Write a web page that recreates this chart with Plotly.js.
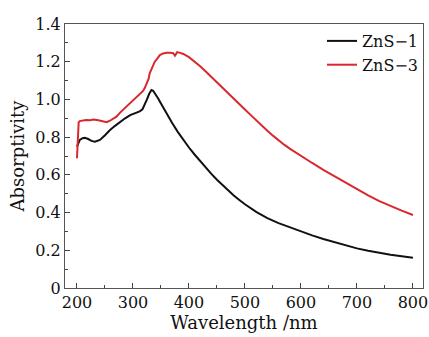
<!DOCTYPE html>
<html>
<head>
<meta charset="utf-8">
<script src="https://cdn.plot.ly/plotly-3.0.1.min.js"></script>
<style>html,body{margin:0;padding:0;background:#fff;}#chart{width:429px;height:337px;}</style>
</head>
<body>
<div id="chart"></div>
<script>
var wl1 = [200,202,205,210,214,220,226,232,241,250,259,268,277,286,295,304,312,317,321,325,329,333,336,340,345,350,360,370,380,390,400,410,420,430,440,450,460,470,480,490,500,520,540,560,580,600,620,640,660,680,700,720,740,760,780,800];
var abs1 = [0.75,0.767,0.785,0.794,0.796,0.79,0.78,0.776,0.785,0.81,0.838,0.86,0.882,0.9,0.917,0.928,0.937,0.948,0.97,1.0,1.03,1.05,1.046,1.03,1.005,0.978,0.925,0.875,0.828,0.785,0.745,0.708,0.672,0.638,0.605,0.574,0.545,0.517,0.491,0.467,0.444,0.404,0.371,0.344,0.321,0.3,0.279,0.26,0.242,0.225,0.21,0.197,0.186,0.176,0.168,0.161];
var wl3 = [200,201,202,203,205,210,216,223,230,238,247,253,259,265,271,277,286,295,304,312,318,321,325,328,330,333,336,339,343,348,354,360,366,372,375,379,384,390,400,410,420,430,440,450,460,470,480,490,500,510,520,530,540,550,560,570,580,590,600,620,640,660,680,700,720,740,760,780,800];
var abs3 = [0.688,0.75,0.84,0.878,0.885,0.888,0.891,0.89,0.893,0.89,0.882,0.879,0.887,0.897,0.91,0.93,0.955,0.98,1.003,1.025,1.045,1.06,1.085,1.11,1.14,1.16,1.18,1.2,1.215,1.235,1.244,1.248,1.247,1.245,1.232,1.251,1.247,1.241,1.224,1.202,1.176,1.148,1.12,1.092,1.064,1.036,1.007,0.977,0.947,0.918,0.889,0.861,0.834,0.808,0.783,0.76,0.739,0.719,0.7,0.663,0.627,0.592,0.557,0.523,0.491,0.461,0.434,0.41,0.387];
var names = ["ZnS\u22121","ZnS\u22123"];
var yTickVals = [0,0.2,0.4,0.6,0.8,1.0,1.2,1.4];
var yTickText = ["0","0.2","0.4","0.6","0.8","1.0","1.2","1.4"];
var xTickVals = [200,300,400,500,600,700,800];

var fontFam = "DejaVu Serif, serif";
var traces = [
  {x: wl1, y: abs1, mode: "lines", name: names[0], line: {color: "#111111", width: 2}},
  {x: wl3, y: abs3, mode: "lines", name: names[1], line: {color: "#d8282e", width: 2}}
];
var layout = {
  width: 429, height: 337,
  margin: {l: 65, r: 6, t: 24, b: 49},
  paper_bgcolor: "#fff", plot_bgcolor: "#fff",
  showlegend: true,
  legend: {x: 1, xanchor: "right", y: 1, yanchor: "top", bgcolor: "rgba(255,255,255,0)",
           font: {family: fontFam, size: 16, color: "#111"}, itemwidth: 30, tracegroupgap: 0},
  xaxis: {
    range: [178.6, 818], tickvals: xTickVals, ticks: "inside", ticklen: 5, tickcolor: "#444",
    showgrid: false, zeroline: false, showline: true, linecolor: "#555", linewidth: 1, mirror: true,
    minor: {dtick: 50, tick0: 0, ticks: "inside", ticklen: 3, tickcolor: "#444", showgrid: false},
    tickfont: {family: fontFam, size: 16, color: "#111"},
    title: {text: "Wavelength /nm", font: {family: fontFam, size: 18, color: "#111"}, standoff: 0}
  },
  yaxis: {
    range: [0, 1.4], tickvals: yTickVals, ticktext: yTickText, ticks: "inside", ticklen: 5, tickcolor: "#444",
    showgrid: false, zeroline: false, showline: true, linecolor: "#555", linewidth: 1, mirror: true,
    minor: {dtick: 0.1, tick0: 0, ticks: "inside", ticklen: 3, tickcolor: "#444", showgrid: false},
    tickfont: {family: fontFam, size: 16, color: "#111"},
    title: {text: "Absorptivity", font: {family: fontFam, size: 18, color: "#111"}, standoff: 6}
  }
};
Plotly.newPlot("chart", traces, layout, {staticPlot: true, displayModeBar: false});
</script>
</body>
</html>
